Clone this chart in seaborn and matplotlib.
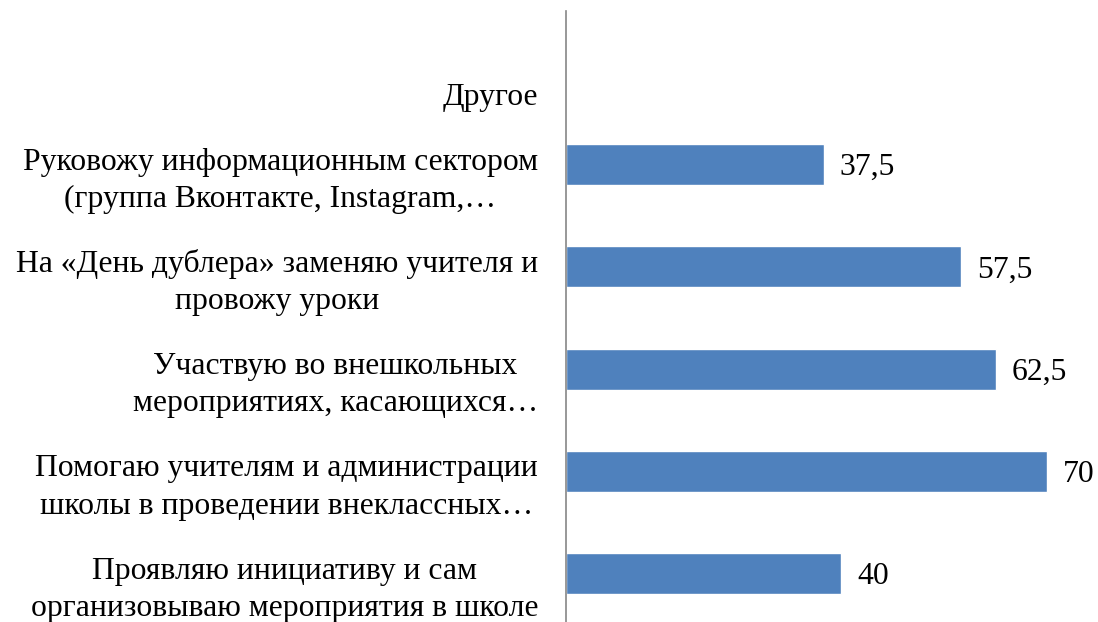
import numpy as np
import pandas as pd
import matplotlib.pyplot as plt
import seaborn as sns

categories = [
    "Другое",
    "Руковожу информационным сектором\n(группа Вконтакте, Instagram,…",
    "На «День дублера» заменяю учителя и\nпровожу уроки",
    "Участвую во внешкольных\nмероприятиях, касающихся…",
    "Помогаю учителям и администрации\nшколы в проведении внеклассных…",
    "Проявляю инициативу и сам\nорганизовываю мероприятия в школе",
]
values = [np.nan, 37.5, 57.5, 62.5, 70, 40]

data = pd.DataFrame({"category": categories, "value": values})

sns.set_style("white")
plt.rcParams['font.family'] = ['Liberation Serif', 'DejaVu Serif']

fig = plt.figure(figsize=(10.98, 6.22), dpi=100)
ax = fig.add_axes([0.5155, -0.0045, 0.4845, 0.9864])

sns.barplot(data=data, x="value", y="category", order=categories,
            color="#4F81BD", saturation=1, width=0.4, errorbar=None, ax=ax)

ax.set_xlim(0, 77.4)
ax.set_ylim(len(categories) - 0.5, -0.5)
ax.set_xticks([])
ax.set_yticks([])
ax.set_xlabel("")
ax.set_ylabel("")
for s in ["top", "right", "bottom"]:
    ax.spines[s].set_visible(False)
ax.spines["left"].set_color("#868686")
ax.spines["left"].set_linewidth(1.2)

# category labels sit at the bottom of each slot, like in Excel
for i, lab in enumerate(categories):
    ax.annotate(lab, xy=(0, i + 0.5), xycoords=("axes fraction", "data"),
                xytext=(-28, 2), textcoords="offset pixels",
                ha="right", va="bottom", multialignment="center",
                fontsize=22.8, linespacing=1.37, color="black",
                annotation_clip=False)

# value labels, skipping the empty category
for i, v in enumerate(values):
    if np.isnan(v):
        continue
    ax.annotate(f"{v:g}".replace(".", ","), xy=(v, i), xycoords="data",
                xytext=(16, -3), textcoords="offset pixels",
                ha="left", va="center", fontsize=22.8, color="black",
                annotation_clip=False)

fig.savefig("out.png", dpi=100)
